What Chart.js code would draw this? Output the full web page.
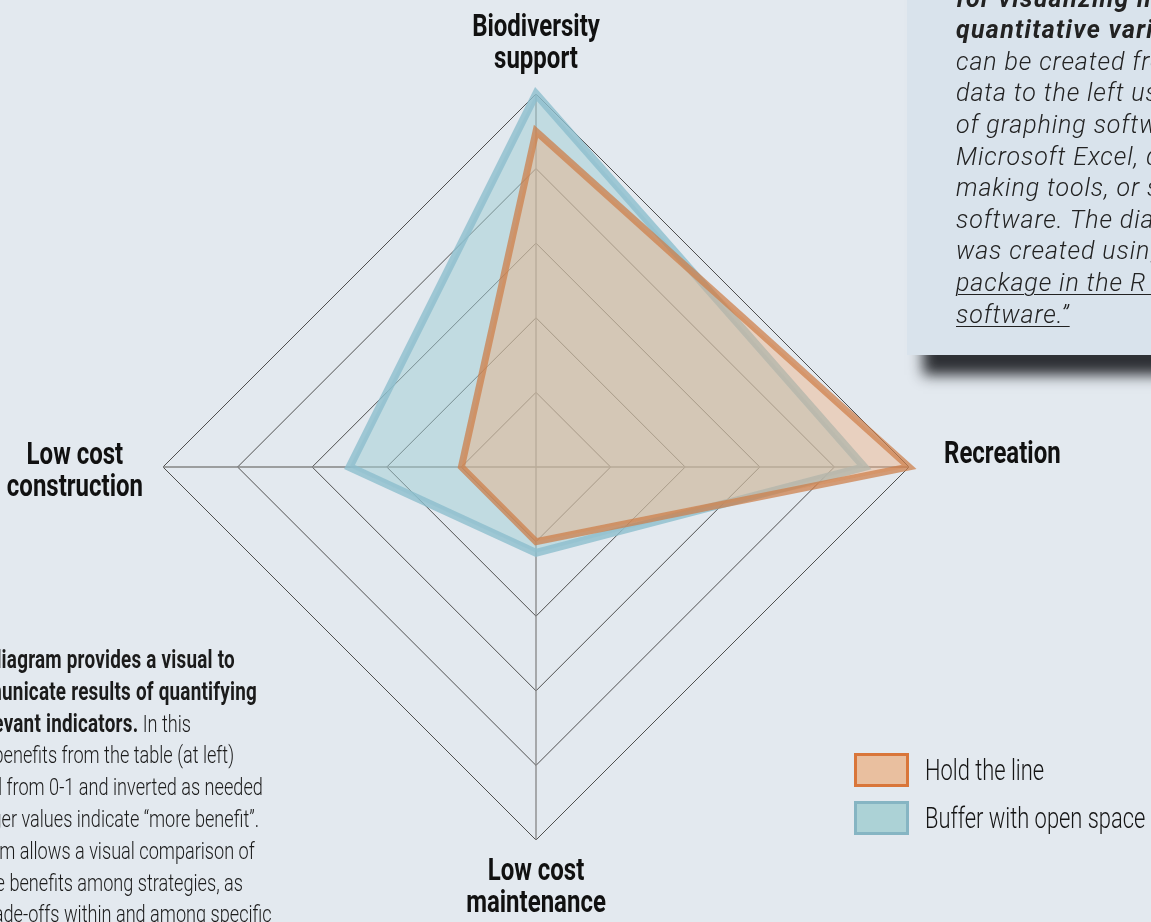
<!DOCTYPE html>
<html>
<head>
<meta charset="utf-8">
<script src="https://cdn.jsdelivr.net/npm/chart.js@4.4.1/dist/chart.umd.min.js"></script>
<style>
  html, body { margin: 0; padding: 0; }
  body {
    width: 1151px; height: 922px; overflow: hidden; position: relative;
    background: #e3e9ef; color: #1b1b1b;
    font-family: Roboto, "Liberation Sans", sans-serif;
  }
  #chart { position: absolute; left: 0; top: 0; }

  /* quoted note, top right */
  .note {
    position: absolute; left: 907px; top: -40px; width: 320px; height: 395px;
    box-sizing: border-box; padding: 22.6px 0 0 49px;
    background: #d9e3ec;
    box-shadow: 16px 20px 13px rgba(30, 33, 37, 0.92);
    font-style: italic; font-weight: 300; font-size: 25px; line-height: 31.6px;
    letter-spacing: 0.9px; white-space: nowrap; color: #222;
  }
  .note b { font-weight: 700; letter-spacing: 1.3px; }
  .note u { text-decoration-thickness: 1px; text-underline-offset: 3px; }

  /* caption, bottom left */
  .caption {
    position: absolute; left: -52px; top: 644px;
    font-size: 24.5px; line-height: 31.8px; font-weight: 300;
    white-space: nowrap; transform: scaleX(0.74); transform-origin: 0 0;
  }
  .caption b { font-weight: 700; font-size: 25.5px; letter-spacing: 0.3px; }

  .legend { position: absolute; left: 854px; top: 753px; }
  .legend .item { position: relative; height: 48px; }
  .legend .swatch {
    position: absolute; left: 0; top: 0; width: 55px; height: 34px;
    box-sizing: border-box; border: 3px solid;
  }
  .legend .text {
    position: absolute; left: 71px; top: -1px; line-height: 36px;
    font-size: 30px; font-weight: 300; white-space: nowrap; color: #151515;
    transform: scaleX(0.73); transform-origin: 0 50%;
  }
</style>
</head>
<body>
<canvas id="chart" width="1151" height="922"></canvas>

<div class="note">
  <b>for visualizing multiple</b><br>
  <b>quantitative variables</b><br>
  can be created from the<br>
  data to the left using a variety<br>
  of graphing software such as<br>
  Microsoft Excel, diagram-<br>
  making tools, or statistical<br>
  software. The diagram above<br>
  was created using the <u>fmsb</u><br>
  <u>package in the R statistical</u><br>
  <u>software.”</u>
</div>

<div class="caption">
  <b>This diagram provides a visual to</b><br>
  <b>communicate results of quantifying</b><br>
  <b>of relevant indicators.</b> In this<br>
  case, benefits from the table (at left)<br>
  scored from 0-1 and inverted as needed<br>
  so larger values indicate “more benefit”.<br>
  Diagram allows a visual comparison of<br>
  relative benefits among strategies, as<br>
  and trade-offs within and among specific
</div>

<div class="legend" id="legend"></div>

<script>
// Axes run clockwise from the top
const AXIS_LABELS = [
  ["Biodiversity", "support"],
  "Recreation",
  ["Low cost", "maintenance"],
  ["Low cost", "construction"]
];
const SERIES_NAMES = ["Hold the line", "Buffer with open space"];
const HOLD_THE_LINE = [0.9, 1.0, 0.2, 0.2];
const BUFFER_OPEN_SPACE = [1.0, 0.88, 0.23, 0.5];
const RING_VALUES = [0, 0.2, 0.4, 0.6, 0.8, 1.0];

const LINE_COLORS = ["rgba(205, 125, 70, 0.72)", "rgba(140, 190, 205, 0.8)"];
const FILL_COLORS = ["rgba(240, 170, 120, 0.4)", "rgba(160, 205, 212, 0.5)"];
const SWATCH_FILLS = ["#e9bf9f", "#acd2d6"];
const SWATCH_BORDERS = ["#d9763a", "#86b5c3"];

// Multi-line axis titles, centred line by line and squeezed to a narrow face
const axisTitles = {
  id: "axisTitles",
  afterDraw(chart, args, opts) {
    const scale = chart.scales.r;
    const ctx = chart.ctx;
    ctx.save();
    ctx.font = opts.font;
    ctx.fillStyle = opts.color;
    ctx.textBaseline = "middle";
    ctx.textAlign = "center";
    const lh = opts.lineHeight;

    chart.data.labels.forEach((label, i) => {
      const lines = [].concat(label);
      const a = scale.getIndexAngle(i);
      const side = Math.cos(a) > 0.5 ? "top"
                 : Math.cos(a) < -0.5 ? "bottom"
                 : Math.sin(a) > 0 ? "right" : "left";
      const pos = scale.getPointPosition(i, scale.drawingArea + opts.gap[side]);
      const blockW = Math.max(...lines.map((l) => ctx.measureText(l).width)) * opts.squeeze;
      const n = lines.length;

      lines.forEach((line, k) => {
        let x = pos.x;
        let y;
        if (side === "top") {
          y = pos.y - (n - k - 0.5) * lh;
        } else if (side === "bottom") {
          y = pos.y + (k + 0.5) * lh;
        } else {
          y = pos.y + (k - (n - 1) / 2) * lh + opts.lift[side];
          x = side === "right" ? pos.x + blockW / 2 : pos.x - blockW / 2;
        }
        ctx.save();
        ctx.translate(x, y);
        ctx.scale(opts.squeeze, 1);
        ctx.fillText(line, 0, 0);
        ctx.restore();
      });
    });
    ctx.restore();
  }
};

const seriesValues = [HOLD_THE_LINE, BUFFER_OPEN_SPACE];

new Chart(document.getElementById("chart"), {
  type: "radar",
  data: {
    labels: AXIS_LABELS,
    datasets: SERIES_NAMES.map((name, i) => ({
      label: name,
      data: seriesValues[i],
      borderColor: LINE_COLORS[i],
      backgroundColor: FILL_COLORS[i],
      borderWidth: i === 0 ? 7 : 8,
      borderJoinStyle: "miter",
      fill: true,
      pointRadius: 0,
      pointHoverRadius: 0,
      clip: false
    }))
  },
  options: {
    responsive: false,
    devicePixelRatio: 1,
    animation: false,
    layout: { padding: { top: 94, bottom: 82, left: 163, right: 241 } },
    plugins: {
      legend: { display: false },
      tooltip: { enabled: false },
      axisTitles: {
        font: "bold 32px Roboto, 'Liberation Sans', sans-serif",
        color: "#111",
        lineHeight: 32,
        squeeze: 0.75,
        gap: { top: 18, right: 35, bottom: 16, left: 20 },
        lift: { right: -12, left: 5 }
      }
    },
    scales: {
      r: {
        min: 0,
        max: 1,
        afterBuildTicks: (scale) => {
          scale.ticks = RING_VALUES.map((v) => ({ value: v }));
        },
        ticks: { display: false },
        pointLabels: { display: false },
        grid: { color: "#4f4f4f", lineWidth: 1 },
        angleLines: { color: "#858585", lineWidth: 1.3 }
      }
    }
  },
  plugins: [axisTitles]
});

// HTML legend built from the series names
const legendEl = document.getElementById("legend");
SERIES_NAMES.forEach((name, i) => {
  const item = document.createElement("div");
  item.className = "item";
  const sw = document.createElement("div");
  sw.className = "swatch";
  sw.style.background = SWATCH_FILLS[i];
  sw.style.borderColor = SWATCH_BORDERS[i];
  const tx = document.createElement("div");
  tx.className = "text";
  tx.textContent = name;
  item.appendChild(sw);
  item.appendChild(tx);
  legendEl.appendChild(item);
});
</script>
</body>
</html>
